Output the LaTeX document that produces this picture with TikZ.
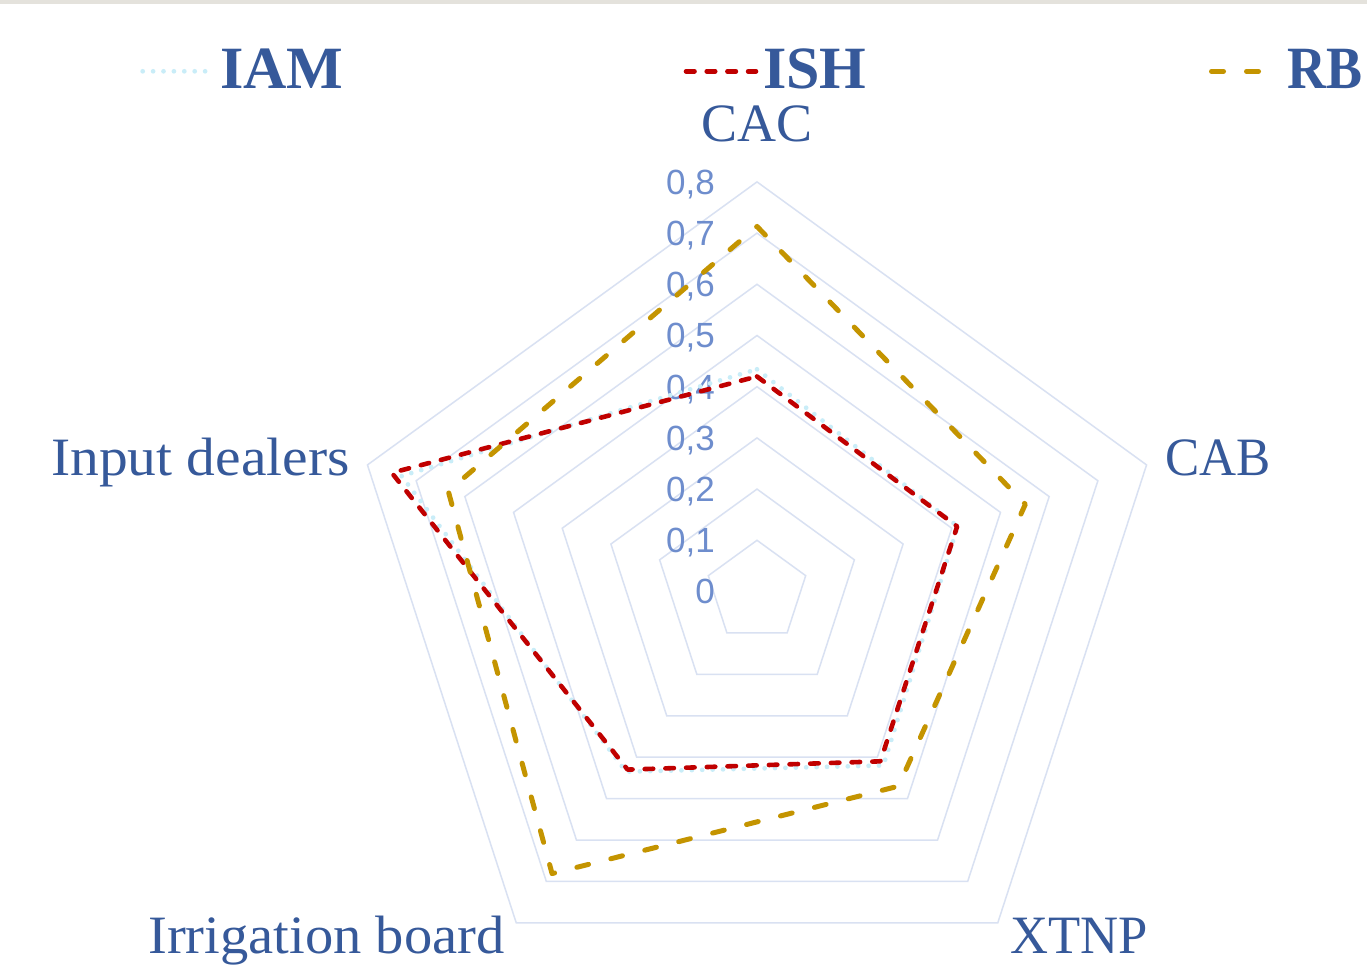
\documentclass[tikz,border=0pt]{standalone}
\usepackage{graphicx}
\usepackage{fontspec}
\setmainfont{Liberation Serif}
\newfontfamily\ticksfont{Liberation Sans}
\definecolor{gridc}{HTML}{D9E1F2}
\definecolor{textblue}{HTML}{36599A}
\definecolor{tickblue}{HTML}{6E8DCD}
\definecolor{iamc}{HTML}{C9EDF8}
\definecolor{ishc}{HTML}{C00000}
\definecolor{rbc}{HTML}{C49400}
\definecolor{topband}{HTML}{E4E2DC}
\newcommand\radarpt[3]{\coordinate (#1) at (#2:{#3*512});}
\tikzset{
  gridline/.style={draw=gridc, line width=1.5pt, line join=miter},
  iamline/.style={draw=iamc, line width=4.7pt, line cap=round, line join=round, dash pattern=on 0pt off 10.4pt},
  ishline/.style={draw=ishc, line width=4.6pt, line cap=round, line join=round, dash pattern=on 8.5pt off 12.2pt},
  rbline/.style={draw=rbc, line width=5pt, line cap=round, line join=round, dash pattern=on 12pt off 23pt},
  axislabel/.style={text=textblue, font=\fontsize{54}{60}\selectfont, inner sep=0pt},
  legendlabel/.style={text=textblue, font=\fontsize{60}{66}\selectfont\bfseries, inner sep=0pt, anchor=base west},
  ticklabel/.style={text=tickblue, font=\ticksfont\fontsize{35}{40}\selectfont, inner sep=0pt, anchor=base east}
}
\begin{document}
\begin{tikzpicture}[x=1pt,y=1pt]
\useasboundingbox (0,0) rectangle (1367,964);
\fill[white] (0,0) rectangle (1367,964);
\fill[topband] (0,960) rectangle (1367,964);
\coordinate (C) at (757,372.5);
% grid rings
\begin{scope}[shift={(C)}]
  \foreach \k in {1,...,8}{
    \pgfmathsetmacro{\r}{\k*51.2}
    \draw[gridline] (90:\r) -- (18:\r) -- (-54:\r) -- (-126:\r) -- (162:\r) -- cycle;
  }
  % data points
  \radarpt{iam1}{90}{0.434}\radarpt{iam2}{18}{0.412}\radarpt{iam3}{-54}{0.42}\radarpt{iam4}{-126}{0.435}\radarpt{iam5}{162}{0.73}
  \radarpt{ish1}{90}{0.42}\radarpt{ish2}{18}{0.411}\radarpt{ish3}{-54}{0.41}\radarpt{ish4}{-126}{0.43}\radarpt{ish5}{162}{0.75}
  \radarpt{rb1}{90}{0.713}\radarpt{rb2}{18}{0.551}\radarpt{rb3}{-54}{0.47}\radarpt{rb4}{-126}{0.681}\radarpt{rb5}{162}{0.634}
\end{scope}
% tick labels
\foreach \k/\t in {0/0,1/{0,1},2/{0,2},3/{0,3},4/{0,4},5/{0,5},6/{0,6},7/{0,7},8/{0,8}}{
  \node[ticklabel] (tick\k) at (715,{372.5+\k*51.2-12.5}) {\t};
}
% series
\draw[iamline] (iam1) -- (iam2) -- (iam3) -- (iam4) -- (iam5) -- cycle;
\draw[ishline] (ish1) -- (ish2) -- (ish3) -- (ish4) -- (ish5) -- cycle;
\draw[rbline] (rb1) -- (rb2) -- (rb3) -- (rb4) -- (rb5) -- cycle;
% axis labels
\node[axislabel, anchor=base] (lcac) at (757,822) {CAC};
\node[axislabel, anchor=base west] (lcab) at (1165,488) {\scalebox{0.95}[1]{CAB}};
\node[axislabel, anchor=base east] (linp) at (350,488) {\scalebox{1.065}[1]{Input dealers}};
\node[axislabel, anchor=base west] (lxtnp) at (1010,11) {\scalebox{0.975}[1]{XTNP}};
\node[axislabel, anchor=base west] (lirr) at (148,11) {\scalebox{1.047}[1]{Irrigation board}};
% legend
\coordinate (iamA) at (142.7,892.7); \coordinate (iamB) at (205.7,892.7);
\draw[iamline] (iamA) -- (iamB);
\node[legendlabel] (tiam) at (220,875.3) {IAM};
\coordinate (ishA) at (686,892.7); \coordinate (ishB) at (756,892.7);
\draw[ishline] (ishA) -- (ishB);
\node[legendlabel] (tish) at (763,875.3) {ISH};
\coordinate (rbA) at (1211.5,892.7); \coordinate (rbB) at (1261,892.7);
\draw[rbline] (rbA) -- (rbB);
\node[legendlabel] (trb) at (1287,875.3) {\scalebox{0.9}[1]{RB}};
\end{tikzpicture}
\end{document}
